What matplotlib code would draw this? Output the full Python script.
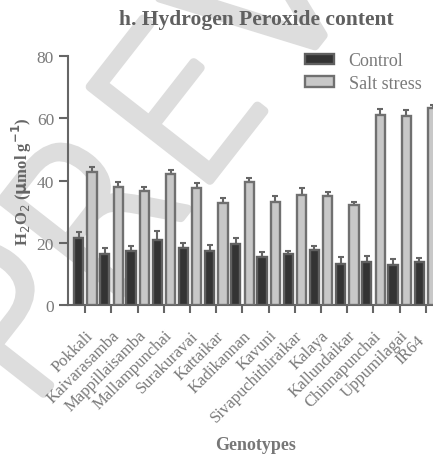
import numpy as np
import matplotlib
matplotlib.use("Agg")
import matplotlib.pyplot as plt
import matplotlib.patheffects as pe
from matplotlib.transforms import ScaledTranslation

# H2O2 content per genotype (umol g-1), mean and SE
genotypes = ["Pokkali", "Kaivarasamba", "Mappillaisamba", "Mallampunchai",
             "Surakuravai", "Kattaikar", "Kadikannan", "Kavuni",
             "Sivapuchithiraikar", "Kalaya", "Kallundaikar", "Chinnapunchai",
             "Uppumilagai", "IR64"]
control = [21.4, 16.5, 17.2, 21.0, 18.3, 17.3, 19.6, 15.3, 16.4, 17.8, 13.3, 13.9, 13.0, 13.9]
control_err = [2.2, 1.9, 1.6, 2.9, 1.6, 2.0, 1.9, 1.7, 1.0, 1.2, 2.0, 1.7, 1.9, 1.2]
salt = [42.6, 37.8, 36.5, 42.1, 37.5, 32.8, 39.6, 33.2, 35.4, 35.1, 32.2, 61.1, 60.8, 63.2]
salt_err = [1.8, 1.7, 1.5, 1.4, 1.6, 1.5, 1.2, 1.9, 2.2, 1.3, 1.0, 1.8, 1.7, 1.1]

plt.rcParams['font.family'] = ['Liberation Serif', 'DejaVu Serif']
txt_col = '#7a7a7a'
axis_col = '#666666'

fig = plt.figure(figsize=(4.33, 4.64), dpi=100)

# watermark behind everything: thin letters thickened with a round stroke
wm = fig.text(0.63, 0.985, 'PREVIEW', rotation=52, fontsize=150, color='#dddddd',
              ha='center', va='center', zorder=-1, family='DejaVu Sans',
              fontweight='light', rotation_mode='anchor')
wm.set_path_effects([pe.Stroke(linewidth=6.5, foreground='#dddddd',
                               joinstyle='round', capstyle='round'), pe.Normal()])

ax = fig.add_axes([0.157, 0.3405, 0.8629, 0.5366])
ax.patch.set_alpha(0)

x = np.arange(len(genotypes))
w = 0.35
off = 0.255
ax.bar(x - off, control, width=w, facecolor='#333333', edgecolor='#606060',
       linewidth=1.7, label='Control', zorder=3)
ax.bar(x + off, salt, width=w, facecolor='#c8c8c8', edgecolor='#707070',
       linewidth=1.7, label='Salt stress', zorder=3)
ax.errorbar(x - off, control, yerr=[np.zeros(len(x)), control_err], fmt='none',
            ecolor=axis_col, elinewidth=1.5, capsize=2.5, capthick=1.5, zorder=2)
ax.errorbar(x + off, salt, yerr=[np.zeros(len(x)), salt_err], fmt='none',
            ecolor=axis_col, elinewidth=1.5, capsize=2.5, capthick=1.5, zorder=2)

ax.set_xlim(-0.66, 13.6)
ax.set_ylim(0, 80)
ax.set_yticks([0, 20, 40, 60, 80])
ax.set_xticks(x)
ax.set_xticklabels(genotypes, rotation=45, ha='right', rotation_mode='anchor',
                   fontsize=12, color=txt_col)
ax.tick_params(axis='y', labelsize=12.5, labelcolor=txt_col, color=axis_col,
               width=1.5, length=6.5, direction='out')
ax.tick_params(axis='x', color=axis_col, width=1.5, length=6, direction='out', pad=10)
for s in ['top', 'right']:
    ax.spines[s].set_visible(False)
for s in ['left', 'bottom']:
    ax.spines[s].set_color(axis_col)
    ax.spines[s].set_linewidth(1.5)

# last label sits a little further down-left
last = ax.get_xticklabels()[-1]
last.set_transform(last.get_transform() + ScaledTranslation(-0.09, -0.05, fig.dpi_scale_trans))

ax.set_ylabel(r'H$_2$O$_2$ ($\mathbf{\mu}$mol g$^{\mathbf{-1}}$)', fontsize=12,
              fontweight='bold', color='#666666', labelpad=2)
fig.text(0.591, 0.040, 'Genotypes', ha='center', va='center', fontsize=13,
         fontweight='bold', color='#777777')
fig.text(0.591, 0.957, 'h. Hydrogen Peroxide content', ha='center', va='center',
         fontsize=15.5, fontweight='bold', color='#606060')

leg = fig.legend(loc='upper left', bbox_to_anchor=(0.705, 0.885), frameon=False,
                 fontsize=13, handlelength=1.6, handleheight=0.5,
                 labelspacing=0.3, handletextpad=0.8, borderpad=0, borderaxespad=0)
for t in leg.get_texts():
    t.set_color(txt_col)

fig.savefig('out.png', dpi=100)
